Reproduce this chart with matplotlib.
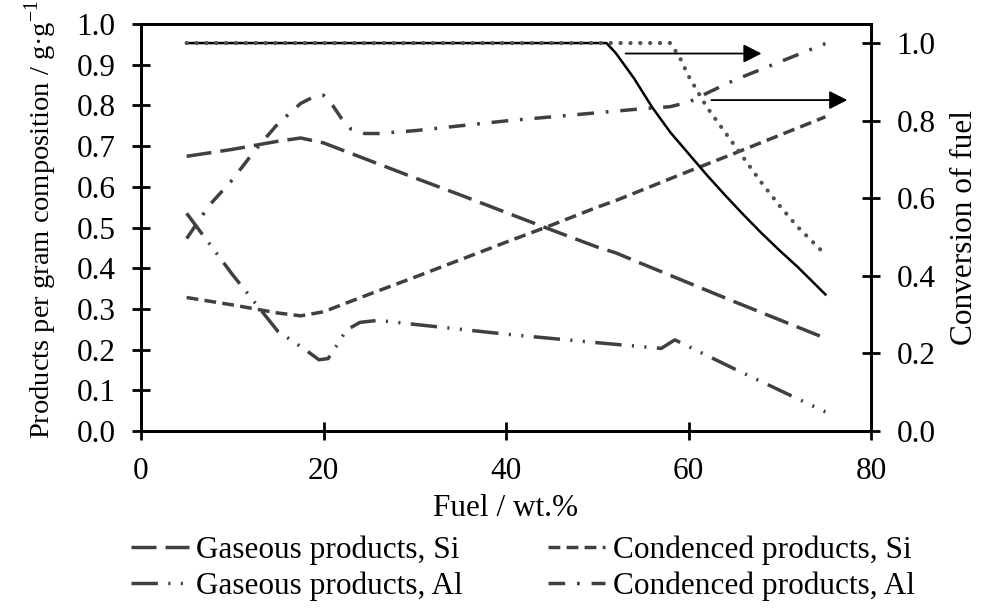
import matplotlib
matplotlib.use("Agg")
import matplotlib.pyplot as plt

# --- data ---
fuel_gas_si = [5, 10, 15, 17.5, 20, 25, 30, 35, 40, 45, 50, 52, 55, 60, 65, 70, 75]
gas_si = [0.675, 0.692, 0.712, 0.72, 0.708, 0.665, 0.622, 0.58, 0.537, 0.494, 0.452,
          0.438, 0.41, 0.364, 0.318, 0.273, 0.228]

fuel_cond_si = [5, 10, 15, 17.5, 20, 25, 30, 35, 40, 45, 50, 52, 55, 60, 65, 70, 75]
cond_si = [0.328, 0.31, 0.29, 0.283, 0.293, 0.336, 0.378, 0.421, 0.464, 0.506, 0.55,
           0.566, 0.593, 0.638, 0.682, 0.727, 0.772]

fuel_gas_al = [5, 10, 15, 18, 19.5, 20.5, 21.5, 22.5, 24, 26, 30, 40, 50, 57, 58.5, 65, 70, 75]
gas_al = [0.535, 0.385, 0.245, 0.2, 0.175, 0.178, 0.212, 0.248, 0.267, 0.272, 0.262,
          0.238, 0.217, 0.203, 0.224, 0.153, 0.1, 0.047]

fuel_cond_al = [5, 7.5, 10, 12.5, 15, 17.5, 19, 20, 21, 22, 23, 24.5, 26, 30, 35, 40, 45,
                50, 55, 58, 60, 62, 65, 70, 75]
cond_al = [0.473, 0.555, 0.617, 0.69, 0.755, 0.805, 0.822, 0.825, 0.8, 0.767, 0.742,
           0.731, 0.731, 0.738, 0.75, 0.762, 0.772, 0.782, 0.792, 0.797, 0.808, 0.83,
           0.862, 0.907, 0.952]

fuel_conv_si = [5, 51, 52, 54, 56, 58, 60, 62, 64, 66, 68, 70, 72, 75]
conv_si = [1.0, 1.0, 0.975, 0.91, 0.835, 0.77, 0.715, 0.66, 0.608, 0.558, 0.51, 0.465,
           0.422, 0.352]

fuel_conv_al = [5, 58, 59, 60, 62, 64, 66, 68, 70, 72, 75]
conv_al = [1.0, 1.0, 0.965, 0.915, 0.835, 0.77, 0.705, 0.64, 0.58, 0.525, 0.455]

labels = ["Gaseous products, Si", "Condenced products, Si",
          "Gaseous products, Al", "Condenced products, Al"]

plt.rcParams["font.family"] = ["Liberation Serif", "DejaVu Serif"]
plt.rcParams["font.size"] = 22.5
plt.rcParams["mathtext.fontset"] = "custom"
plt.rcParams["mathtext.rm"] = "Liberation Serif"
plt.rcParams["lines.scale_dashes"] = False

dark = "#404040"

fig = plt.figure(figsize=(9.82, 6.10), dpi=100)
ax = fig.add_axes([0.1436, 0.2934, 0.7434, 0.6672])
ax2 = ax.twinx()

l1, = ax.plot(fuel_gas_si, gas_si, color=dark, lw=2.5, dashes=(18, 6.5))
l2, = ax.plot(fuel_cond_si, cond_si, color=dark, lw=2.5, dashes=(8.5, 4.5))
l3, = ax.plot(fuel_gas_al, gas_al, color=dark, lw=2.5,
              dashes=(19, 7.5, 1.5, 7.5, 1.5, 7.5))
l4, = ax.plot(fuel_cond_al, cond_al, color=dark, lw=2.5, dashes=(12, 8.5, 2, 8.5))

ax2.plot(fuel_conv_si, conv_si, color="black", lw=1.8)
ax2.plot(fuel_conv_al, conv_al, color="#505050", lw=3.0, dashes=(0.1, 7.0),
         dash_capstyle="round")

# arrows pointing to the right axis
arrow_kw = dict(arrowstyle="-|>,head_length=0.55,head_width=0.28", mutation_scale=20,
                lw=1.3, color="black", shrinkA=0, shrinkB=0)
ax2.annotate("", xy=(68, 0.973), xytext=(53.1, 0.973), arrowprops=arrow_kw)
ax2.annotate("", xy=(77.4, 0.853), xytext=(62.5, 0.853), arrowprops=arrow_kw)

ax.set_xlim(0, 80)
ax.set_ylim(0, 1.0)
ax2.set_ylim(0, 1.049)
ax.set_xticks([0, 20, 40, 60, 80])
ax.set_yticks([i / 10 for i in range(11)])
ax.set_yticklabels([f"{i / 10:.1f}" for i in range(11)])
ax2.set_yticks([0, 0.2, 0.4, 0.6, 0.8, 1.0])
ax2.set_yticklabels(["0.0", "0.2", "0.4", "0.6", "0.8", "1.0"])

for a in (ax, ax2):
    for s in a.spines.values():
        s.set_linewidth(2.0)
    a.tick_params(direction="inout", length=13, width=2.0, pad=12)

ax.set_xlabel("Fuel / wt.%", labelpad=6)
ax.set_ylabel("Products per gram composition / g·g$^{-1}$", fontsize=20.5)
ax.yaxis.set_label_coords(-0.113, 0.52)
ax2.set_ylabel("Conversion of fuel", labelpad=10)

fig.legend([l1, l3, l2, l4], [labels[0], labels[2], labels[1], labels[3]],
           ncol=2, loc="center", bbox_to_anchor=(523 / 982, 1 - 568 / 610),
           frameon=False, handlelength=1.85, handletextpad=0.25,
           columnspacing=2.7, labelspacing=0.2, borderpad=0)

fig.savefig("out.png", dpi=100)
